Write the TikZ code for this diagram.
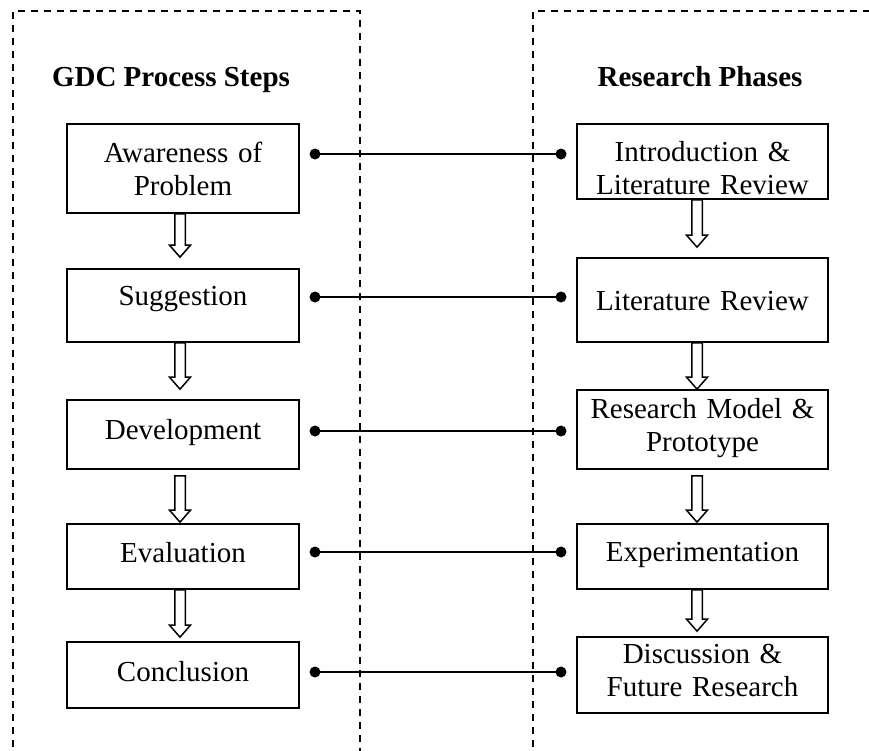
\documentclass[tikz,border=0pt]{standalone}
\usepackage{fontspec}
\setmainfont{Liberation Serif}
\usetikzlibrary{calc}

% hollow block arrow from a start point down to a tip point
\newcommand\flowarrow[2]{%
  \draw[blockarr] let \p1=(#1), \p2=(#2) in
    (\x1-5.25pt,\y1) -- (\x1-5.25pt,\y2+12pt) -- (\x1-10.5pt,\y2+12pt)
    -- (\x1,\y2) -- (\x1+10.5pt,\y2+12pt) -- (\x1+5.25pt,\y2+12pt)
    -- (\x1+5.25pt,\y1) -- cycle;}

\begin{document}
\begin{tikzpicture}[x=1pt,y=-1pt,
  stepbox/.style={draw, line width=1.7pt, align=center, inner xsep=0pt,
    inner ysep=0pt, anchor=base, font=\fontsize{29}{33.5}\selectfont},
  leftbox/.style={stepbox, text width=232pt},
  rightbox/.style={stepbox, text width=251pt},
  coltitle/.style={anchor=base, inner sep=0pt, font=\fontsize{29}{33.5}\selectfont\bfseries},
  frame/.style={dashed, dash pattern=on 7pt off 6pt, line width=1.5pt},
  blockarr/.style={draw, line width=1.5pt, fill=white, line join=miter},
  link/.style={line width=2.2pt},
  dot/.style={fill=black}]

\useasboundingbox (0,0) rectangle (869,750);
\clip (0,0) rectangle (869,750);

% dashed column frames
\draw[frame] (13,760) -- (13,11) -- (360,11) -- (360,760);
\draw[frame] (533,760) -- (533,11) -- (880,11);

% column titles
\node[coltitle] (ltitle) at (171,86) {GDC Process Steps};
\node[coltitle] (rtitle) at (700,86) {Research Phases};

% GDC process steps
\node[leftbox, text height=38pt, text depth=51pt] (aw)  at (183,162) {Awareness of\\Problem};
\node[leftbox, text height=36pt, text depth=37pt] (sug) at (183,305) {Suggestion};
\node[leftbox, text height=39pt, text depth=30pt] (dev) at (183,439) {Development};
\node[leftbox, text height=38pt, text depth=27pt] (eva) at (183,562) {Evaluation};
\node[leftbox, text height=39pt, text depth=27pt] (con) at (183,681) {Conclusion};

% research phases
\node[rightbox, text height=37pt, text depth=38pt] (intro) at (702.5,161) {Introduction \&\\Literature Review};
\node[rightbox, text height=52pt, text depth=32pt] (lit)   at (702.5,310) {Literature Review};
\node[rightbox, text height=28pt, text depth=51pt] (rm)    at (702.5,418) {Research Model \&\\Prototype};
\node[rightbox, text height=37pt, text depth=28pt] (exp)   at (702.5,561) {Experimentation};
\node[rightbox, text height=26pt, text depth=50pt] (dis)   at (702.5,663) {Discussion \&\\Future Research};

% flow arrows, left column
\flowarrow{[xshift=-3pt]aw.south}{[xshift=-3pt,yshift=11pt]sug.north}
\flowarrow{[xshift=-3pt]sug.south}{[xshift=-3pt,yshift=10pt]dev.north}
\flowarrow{[xshift=-3pt,yshift=-6pt]dev.south}{[xshift=-3pt,yshift=1pt]eva.north}
\flowarrow{[xshift=-3pt]eva.south}{[xshift=-3pt,yshift=4pt]con.north}

% flow arrows, right column
\flowarrow{[xshift=-5.5pt]intro.south}{[xshift=-5.5pt,yshift=10pt]lit.north}
\flowarrow{[xshift=-5.5pt]lit.south}{[xshift=-5.5pt]rm.north}
\flowarrow{[xshift=-5.5pt,yshift=-6pt]rm.south}{[xshift=-5.5pt,yshift=1pt]exp.north}
\flowarrow{[xshift=-5.5pt]exp.south}{[xshift=-5.5pt,yshift=5pt]dis.north}

% link end points
\coordinate (l1) at (315,154); \coordinate (r1) at (561,154);
\coordinate (l2) at (315,297); \coordinate (r2) at (561,297);
\coordinate (l3) at (315,431); \coordinate (r3) at (561,431);
\coordinate (l4) at (315,552); \coordinate (r4) at (561,552);
\coordinate (l5) at (315,672); \coordinate (r5) at (561,672);

% links between steps and phases
\foreach \i in {1,...,5}{
  \draw[link] (l\i) -- (r\i);
  \fill[dot] (l\i) circle (5.5);
  \fill[dot] (r\i) circle (5.5);
}
\end{tikzpicture}
\end{document}
